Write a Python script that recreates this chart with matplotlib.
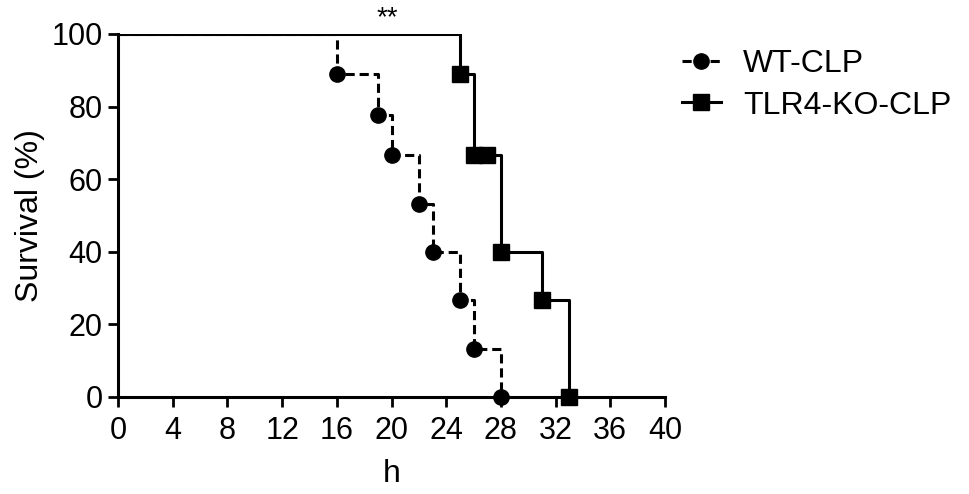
import matplotlib
matplotlib.use("Agg")
import matplotlib.pyplot as plt

plt.rcParams['font.family'] = ['Liberation Sans', 'DejaVu Sans']

# survival data (h, %)
wt_time = [0, 16, 19, 20, 22, 23, 25, 26, 28]
wt_surv = [100, 88.9, 77.8, 66.7, 53.3, 40.0, 26.7, 13.3, 0]
ko_time = [0, 25, 26, 27, 28, 31, 33]
ko_surv = [100, 88.9, 66.7, 66.7, 40.0, 26.7, 0]
labels = ["WT-CLP", "TLR4-KO-CLP"]
xticks = list(range(0, 41, 4))
yticks = [0, 20, 40, 60, 80, 100]

fig = plt.figure(figsize=(9.69, 4.94), dpi=100)
ax = fig.add_axes([0.1218, 0.1964, 0.5645, 0.7348])

lw = 2.2
ms = 11
dash = (3, 1.6)
# KO solid
ax.step(ko_time, ko_surv, where='post', color='black', lw=lw, zorder=3)
ax.plot(ko_time[1:], ko_surv[1:], ls='none', marker='s', ms=ms, color='black',
        zorder=4, clip_on=False)
# WT dashed
ax.step(wt_time, wt_surv, where='post', color='black', lw=lw, dashes=dash, zorder=3)
ax.plot(wt_time[1:], wt_surv[1:], ls='none', marker='o', ms=ms, color='black',
        zorder=4, clip_on=False)

ax.set_xlim(0, 40)
ax.set_ylim(0, 100)
ax.set_xticks(xticks)
ax.set_yticks(yticks)
ax.tick_params(labelsize=22, width=2, length=7, direction='out')
ax.tick_params(axis='x', pad=7)
ax.tick_params(axis='y', pad=4)
for s in ['top', 'right']:
    ax.spines[s].set_visible(False)
for s in ['left', 'bottom']:
    ax.spines[s].set_linewidth(2.2)
ax.set_xlabel("h", fontsize=23, labelpad=9)
ax.set_ylabel("Survival (%)", fontsize=23, labelpad=5)

ax.text(19.7, 104.4, "**", ha='center', va='center', fontsize=20)

h1, = ax.plot([], [], color='black', lw=lw, dashes=dash, marker='o', ms=ms)
h2, = ax.plot([], [], color='black', lw=lw, marker='s', ms=ms)
fig.legend([h1, h2], labels, loc='upper left', bbox_to_anchor=(0.704, 0.900),
           frameon=False, fontsize=23, handlelength=1.2, handletextpad=0.7,
           labelspacing=0.35, borderpad=0, borderaxespad=0)

fig.savefig("out.png", dpi=100)
